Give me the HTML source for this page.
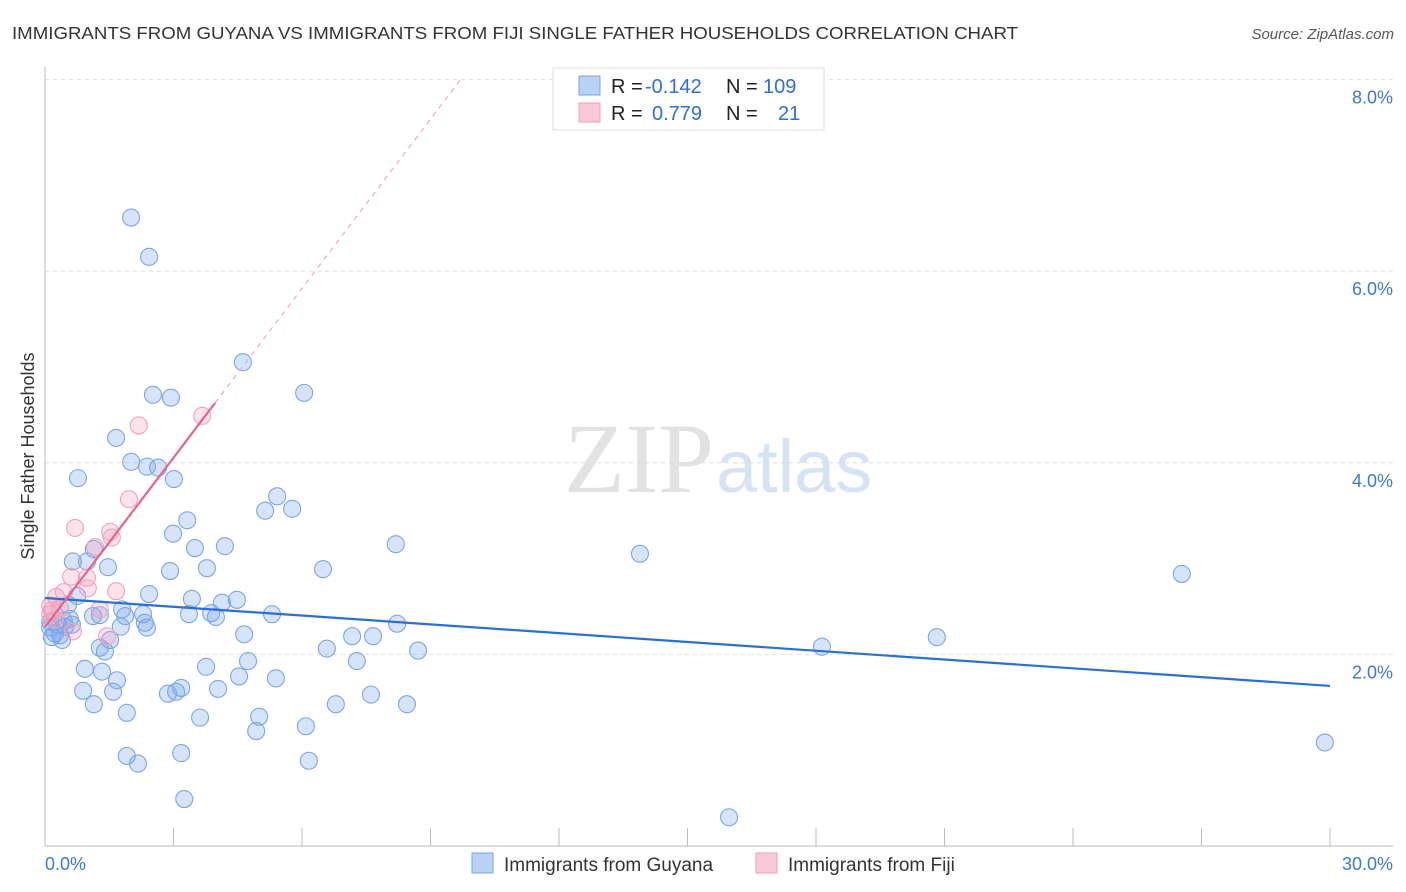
<!DOCTYPE html>
<html><head><meta charset="utf-8"><style>
body{margin:0;background:#fff;font-family:"Liberation Sans",sans-serif;}
svg{display:block}
</style></head><body>
<svg id="chart" width="1406" height="892">
<text x="12" y="39" font-size="17.5" fill="#333" textLength="1006" lengthAdjust="spacingAndGlyphs">IMMIGRANTS FROM GUYANA VS IMMIGRANTS FROM FIJI SINGLE FATHER HOUSEHOLDS CORRELATION CHART</text>
<text x="1394" y="39" font-size="15" fill="#555" font-style="italic" text-anchor="end">Source: ZipAtlas.com</text>
<text x="714" y="492" font-size="100" fill="#e2e2e2" text-anchor="end" font-family="Liberation Serif">ZIP</text>
<text x="716" y="492" font-size="74" fill="#d6e3f5">atlas</text>
<text transform="translate(34,456) rotate(-90)" font-size="18" fill="#333" text-anchor="middle">Single Father Households</text>
<g id="grid"></g><g id="axes"></g><g id="marks"></g>
<g>
<rect x="553" y="68" width="271" height="62" fill="#fff" stroke="#ddd"/>
<rect x="579" y="76" width="21" height="19" fill="#b9d1f3" stroke="#7ba4e3"/>
<rect x="579" y="103" width="21" height="19" fill="#f9c9d7" stroke="#eda0b8"/>
<text x="611" y="93" font-size="20" fill="#222">R = <tspan fill="#2f6fd6" x="645">-0.142</tspan></text>
<text x="726" y="93" font-size="20" fill="#222">N = <tspan fill="#2f6fd6" x="763">109</tspan></text>
<text x="611" y="120" font-size="20" fill="#222">R = <tspan fill="#2f6fd6" x="652">0.779</tspan></text>
<text x="726" y="120" font-size="20" fill="#222">N = <tspan fill="#2f6fd6" x="778">21</tspan></text>
</g>
<g>
<rect x="472" y="853" width="21" height="20" fill="#b9d1f3" stroke="#7ba4e3"/>
<text x="504" y="871" font-size="19" fill="#333">Immigrants from Guyana</text>
<rect x="756" y="853" width="21" height="20" fill="#f9c9d7" stroke="#eda0b8"/>
<text x="788" y="871" font-size="19" fill="#333">Immigrants from Fiji</text>
</g>
</svg>
<script>
const guyanaPx=[[131,218],[149,257],[243,362],[304,393],[153,395],[171,398],[116,438],[131,462],[147,467],[158,468],[78,478],[174,479],[277,496],[265,511],[292,509],[187,520],[173,534],[94,549],[195,548],[225,546],[396,544],[640,554],[73,561],[87,561],[108,567],[207,568],[170,571],[323,569],[1182,574],[149,594],[77,596],[192,599],[237,600],[222,603],[122,609],[143,614],[93,616],[125,616],[272,614],[189,614],[211,613],[216,617],[100,615],[70,619],[50,622],[58,625],[65,627],[72,625],[121,627],[147,628],[145,623],[397,624],[244,634],[352,636],[373,636],[52,637],[60,635],[110,640],[100,648],[105,652],[327,649],[822,647],[937,637],[418,651],[248,661],[357,661],[206,667],[85,669],[102,672],[239,676],[276,678],[117,680],[181,688],[176,692],[218,689],[83,691],[113,692],[168,694],[371,695],[94,704],[336,704],[407,704],[127,713],[200,718],[259,717],[306,726],[256,731],[127,756],[181,753],[138,764],[309,761],[1325,743],[184,799],[729,817],[50,628],[55,633],[64,621],[68,605],[62,640]];
const fijiPx=[[139,425],[202,416],[129,499],[75,528],[110,532],[112,538],[95,547],[71,577],[87,578],[88,588],[116,591],[56,597],[64,592],[50,606],[60,608],[52,610],[100,609],[73,631],[107,636],[50,614],[55,620]];
// data values (percent)
const guyanaX=guyanaPx.map(p=>+((p[0]-45)/1285*30).toFixed(2));
const guyanaY=guyanaPx.map(p=>+((846-p[1])/95.8).toFixed(2));
const fijiX=fijiPx.map(p=>+((p[0]-45)/1285*30).toFixed(2));
const fijiY=fijiPx.map(p=>+((846-p[1])/95.8).toFixed(2));
const guyanaTrend=[2.589,-0.0306]; // intercept, slope
const fijiTrend=[2.286,0.589];
const yTicks=[2,4,6,8];
const yTickLabels=["2.0%","4.0%","6.0%","8.0%"];
const xTicks=[0,3,6,9,12,15,18,21,24,27,30];

const NS="http://www.w3.org/2000/svg";
const sx=v=>45+v/30*1285, sy=v=>846-v*95.8;
function mk(parent,tag,attrs){const e=document.createElementNS(NS,tag);for(const k in attrs)e.setAttribute(k,attrs[k]);parent.appendChild(e);return e;}
const grid=document.getElementById('grid'),axes=document.getElementById('axes'),marks=document.getElementById('marks');
yTicks.forEach((t,i)=>{
  const l=mk(grid,'line',{x1:45,x2:1393,y1:sy(t),y2:sy(t),stroke:'#ddd','stroke-dasharray':'4,4'});
  
  
  const tx=mk(axes,'text',{x:1393,y:sy(t)+24,'font-size':18,fill:'#3b78d8','text-anchor':'end'});
  tx.textContent=yTickLabels[i];
  
  
});
const ya=mk(axes,'line',{x1:45,x2:45,y1:67,y2:846,stroke:'#bbb'});


const xa=mk(axes,'line',{x1:45,x2:1393,y1:846,y2:846,stroke:'#bbb'});


xTicks.forEach(t=>{
  const l=mk(axes,'line',{x1:sx(t),x2:sx(t),y1:828,y2:846,stroke:'#bbb'});
  
  
});
const x0=mk(axes,'text',{x:45,y:870,'font-size':18,fill:'#3b78d8'});x0.textContent='0.0%';


const x1=mk(axes,'text',{x:1393,y:870,'font-size':18,fill:'#3b78d8','text-anchor':'end'});x1.textContent='30.0%';


guyanaX.forEach((x,i)=>{
  const c=mk(marks,'circle',{cx:sx(x),cy:sy(guyanaY[i]),r:8.5,fill:'rgba(120,165,235,0.3)',stroke:'#7ba6e6','stroke-width':1.1});
  
  
});
fijiX.forEach((x,i)=>{
  const c=mk(marks,'circle',{cx:sx(x),cy:sy(fijiY[i]),r:8.5,fill:'rgba(245,160,190,0.3)',stroke:'#eea3bb','stroke-width':1.1});
  
  
});
const bl=mk(marks,'line',{x1:sx(0),y1:sy(guyanaTrend[0]),x2:sx(30),y2:sy(guyanaTrend[0]+30*guyanaTrend[1]),stroke:'#2a6fd6','stroke-width':2.2});


const pl=mk(marks,'line',{x1:sx(0),y1:sy(fijiTrend[0]),x2:sx(3.97),y2:sy(fijiTrend[0]+3.97*fijiTrend[1]),stroke:'#e8628a','stroke-width':2.2});


const pd=mk(marks,'line',{x1:sx(3.97),y1:sy(fijiTrend[0]+3.97*fijiTrend[1]),x2:sx(9.69),y2:sy(fijiTrend[0]+9.69*fijiTrend[1]),stroke:'#f0a8bf','stroke-width':1.2,'stroke-dasharray':'5,5'});


</script>
</body></html>
